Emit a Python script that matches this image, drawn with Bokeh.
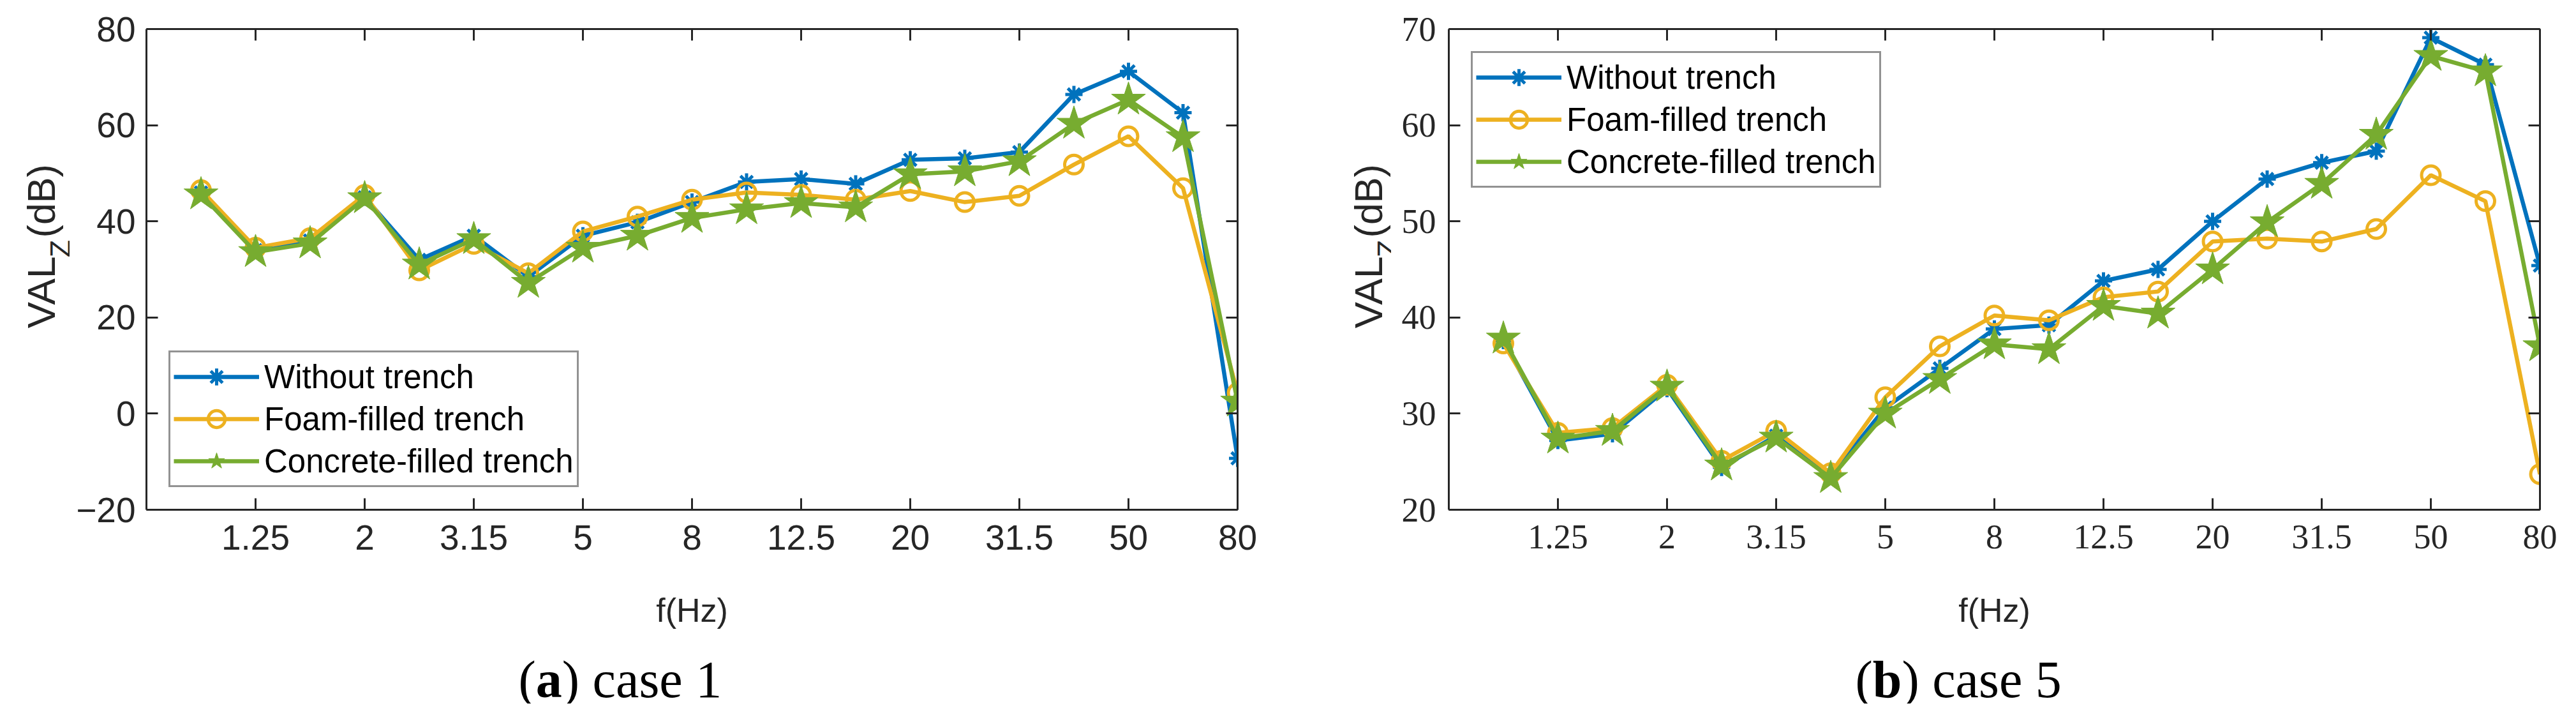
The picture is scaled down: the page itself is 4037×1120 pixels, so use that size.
from math import pi

from bokeh.plotting import figure
from bokeh.layouts import row, column
from bokeh.models import (Range1d, FixedTicker, LinearAxis, Label,
                          CustomJSTickFormatter)
from bokeh.embed import file_html
from bokeh.resources import INLINE

# one-third octave band centres (Hz)
freqs = ["1", "1.25", "1.6", "2", "2.5", "3.15", "4", "5", "6.3", "8",
         "10", "12.5", "16", "20", "25", "31.5", "40", "50", "63", "80"]

series_names = ["Without trench", "Foam-filled trench", "Concrete-filled trench"]

# case 1, VAL_Z in dB
without_1 = [46.0, 34.0, 36.0, 45.0, 32.0, 37.0, 28.5, 37.0, 39.8, 44.0,
             48.2, 48.8, 47.8, 52.8, 53.1, 54.4, 66.4, 71.2, 62.6, -9.3]
foam_1 = [46.5, 34.5, 36.5, 45.5, 29.8, 35.3, 29.2, 37.9, 41.0, 44.5,
          46.0, 45.5, 44.5, 46.3, 44.0, 45.3, 51.8, 57.7, 46.9, 4.3]
concrete_1 = [45.6, 33.6, 35.4, 44.8, 31.0, 36.3, 27.2, 34.5, 37.0, 40.7,
              42.5, 43.8, 42.9, 49.8, 50.4, 52.5, 60.3, 65.3, 57.5, 2.5]

# case 5, VAL_Z in dB
without_5 = [37.6, 27.2, 27.9, 32.6, 24.4, 27.7, 23.5, 30.6, 34.7, 38.8,
             39.2, 43.8, 45.0, 50.0, 54.4, 56.1, 57.3, 69.1, 66.3, 45.4]
foam_5 = [37.3, 28.0, 28.5, 33.0, 25.1, 28.2, 23.8, 31.7, 37.0, 40.2,
          39.7, 42.1, 42.7, 47.9, 48.2, 47.9, 49.2, 54.8, 52.1, 23.7]
concrete_5 = [37.8, 27.4, 28.2, 32.8, 24.6, 27.5, 23.3, 30.0, 33.6, 37.2,
              36.7, 41.2, 40.4, 45.0, 49.9, 53.9, 59.0, 67.2, 65.6, 37.0]

y_ticks_1 = [-20, 0, 20, 40, 60, 80]
y_ticks_5 = [20, 30, 40, 50, 60, 70]

x_pos = list(range(1, len(freqs) + 1))
x_ticks = x_pos[1::2]

COLORS = ["#0072BD", "#EDB120", "#77AC30"]
AX = "#262626"
SANS = "Liberation Sans"
SERIF = "Liberation Serif"
BOTTOM = 105
MAIN_H = 45 + 753 + BOTTOM
LOW_H = 199


def style_axis(ax, tick_font, tick_size, standoff):
    ax.axis_line_color = AX
    ax.axis_line_width = 3
    ax.major_tick_line_color = AX
    ax.major_tick_line_width = 3
    ax.major_tick_in = 18
    ax.major_tick_out = 0
    ax.minor_tick_line_color = None
    ax.major_label_text_font = tick_font
    ax.major_label_text_font_size = tick_size
    ax.major_label_text_color = AX
    ax.major_label_standoff = standoff


def text_box(w, h):
    # blank canvas whose data units are pixels, used for free texts
    p = figure(width=w, height=h, x_range=Range1d(0, w), y_range=Range1d(0, h),
               min_border=0, x_axis_location=None, y_axis_location=None,
               toolbar_location=None, output_backend="svg")
    p.outline_line_color = None
    p.grid.visible = False
    return p


def add_text(p, x, y, text, size, font=SANS, style="normal",
             angle=0.0, color=AX, align="left"):
    p.add_layout(Label(x=x, y=y, text=text, angle=angle, text_font=font,
                       text_font_size=size, text_font_style=style,
                       text_color=color, text_baseline="alphabetic",
                       text_align=align))


def ylabel_box(w, base_x):
    # VAL with a lowered Z, then (dB); y measured down from the box top
    p = text_box(w, MAIN_H)
    add_text(p, base_x, MAIN_H - 562, "VAL", "62px", angle=pi / 2)
    add_text(p, base_x + 30, MAIN_H - 429, "Z", "45px", angle=pi / 2)
    add_text(p, base_x, MAIN_H - 392, "(dB)", "61px", angle=pi / 2)
    return p


def lower_box(w, xlab_x, x0, letter, rest):
    # x axis title and the panel caption
    p = text_box(w, LOW_H)
    add_text(p, xlab_x, 147, "f(Hz)", "52px", align="center")
    fs = 82
    base = 38
    lw = 0.5 if letter == "a" else 0.556
    add_text(p, x0, base, "(", f"{fs}px", font=SERIF, color="black")
    add_text(p, x0 + 0.333 * fs, base, letter, f"{fs}px", font=SERIF,
             style="bold", color="black")
    add_text(p, x0 + (0.333 + lw) * fs, base, rest, f"{fs}px", font=SERIF,
             color="black")
    return p


def make_plot(ys, yrange, yticks, tick_font, tick_size, tick_gap,
              border_left, border_right, legend_loc):
    p = figure(frame_width=1710, frame_height=753,
               min_border_left=border_left, min_border_right=border_right,
               min_border_top=45, min_border_bottom=BOTTOM,
               x_range=Range1d(0, 20), y_range=Range1d(*yrange),
               toolbar_location=None, output_backend="svg")
    p.outline_line_color = None
    p.grid.visible = False

    xt = FixedTicker(ticks=x_ticks, minor_ticks=[])
    yt = FixedTicker(ticks=yticks, minor_ticks=[])
    p.xaxis.ticker = xt
    p.yaxis.ticker = yt
    p.xaxis.major_label_overrides = {x: freqs[x - 1] for x in x_ticks}
    style_axis(p.xaxis[0], tick_font, tick_size, 24)
    style_axis(p.yaxis[0], tick_font, tick_size, tick_gap)

    # box on: tick marks on the top and right edges too
    top = LinearAxis(ticker=xt, formatter=CustomJSTickFormatter(code="return ''"))
    right = LinearAxis(ticker=yt, formatter=CustomJSTickFormatter(code="return ''"))
    for ax in (top, right):
        style_axis(ax, tick_font, "1px", 0)
    p.add_layout(top, "above")
    p.add_layout(right, "right")

    y_w, y_f, y_c = ys
    p.line(x_pos, y_w, color=COLORS[0], line_width=6.5, legend_label=series_names[0])
    p.scatter(x_pos, y_w, marker="asterisk", size=27, line_color=COLORS[0],
              line_width=5, legend_label=series_names[0])
    p.line(x_pos, y_f, color=COLORS[1], line_width=6.5, legend_label=series_names[1])
    p.scatter(x_pos, y_f, marker="circle", size=29, fill_color=None,
              line_color=COLORS[1], line_width=5, legend_label=series_names[1])
    p.line(x_pos, y_c, color=COLORS[2], line_width=6.5, legend_label=series_names[2])
    p.scatter(x_pos, y_c, marker="star", size=56, fill_color=COLORS[2],
              line_color=COLORS[2], line_width=1, legend_label=series_names[2])

    lg = p.legend[0]
    lg.location = legend_loc
    lg.margin = 35
    lg.padding = 5
    lg.spacing = 0
    lg.border_line_color = AX
    lg.border_line_width = 3
    lg.background_fill_alpha = 1
    lg.label_text_font = SANS
    lg.label_text_font_size = "51px"
    lg.label_text_color = "black"
    lg.label_height = 66
    lg.glyph_height = 66
    lg.glyph_width = 134
    lg.label_standoff = 8
    return p


# left panel: y label box 109, plot 120 + 1710 + 61
yl1 = ylabel_box(109, 64)
p1 = make_plot((without_1, foam_1, concrete_1), (-20, 80), y_ticks_1,
               SANS, "55px", 17, 120, 61, "bottom_left")
# right panel: y label box 180, plot 90 + 1710 + 41
yl2 = ylabel_box(180, 144)
p2 = make_plot((without_5, foam_5, concrete_5), (20, 70), y_ticks_5,
               SERIF, "54px", 20, 90, 41, "top_left")

low1 = lower_box(2000, 1084, 812, "a", ") case 1")
low2 = lower_box(2021, 1125, 907, "b", ") case 5")

p = column(row(yl1, p1, yl2, p2), row(low1, low2))
open("out.html", "w").write(file_html(p, INLINE))
